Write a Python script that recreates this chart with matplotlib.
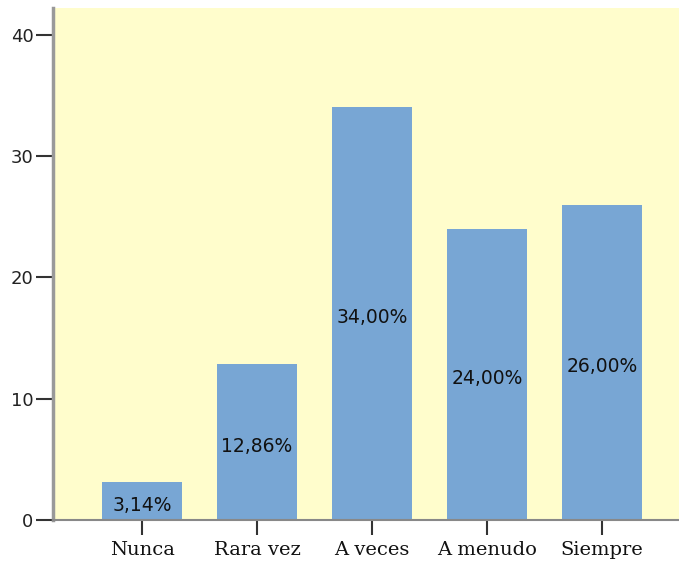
import matplotlib
matplotlib.use("Agg")
import matplotlib.pyplot as plt

categories = ["Nunca", "Rara vez", "A veces", "A menudo", "Siempre"]
values = [3.14, 12.86, 34.00, 24.00, 26.00]
labels = ["3,14%", "12,86%", "34,00%", "24,00%", "26,00%"]
yticks = [0, 10, 20, 30, 40]

fig = plt.figure(figsize=(6.79, 5.63), dpi=100)
ax = fig.add_axes([53/679, 43/563, 1 - 53/679, (520-8)/563])
ax.set_facecolor("#FFFDCC")
x = list(range(len(categories)))
bars = ax.bar(x, values, width=0.7, color="#78A6D4", edgecolor="none", zorder=2)
for xi, v, lab in zip(x, values, labels):
    ax.text(xi, v / 2 - 0.35, lab, ha="center", va="center", fontsize=13.5,
            family="DejaVu Sans", color="#111111", zorder=3)

ax.set_xlim(-0.774, 4.67)
ax.set_ylim(0, 42.2)
ax.set_yticks(yticks)
ax.set_yticklabels([str(t) for t in yticks], fontsize=13, family="DejaVu Sans", color="#222222")
ax.set_xticks(x)
ax.set_xticklabels(categories, fontsize=14, family="DejaVu Serif", color="#111111")
for s in ["top", "right"]:
    ax.spines[s].set_visible(False)
ax.spines["left"].set_color("#999999")
ax.spines["left"].set_linewidth(2.5)
ax.spines["bottom"].set_color("#888888")
ax.spines["bottom"].set_linewidth(1.5)
ax.tick_params(axis="y", length=12, width=1.5, color="#333333", pad=2)
ax.tick_params(axis="x", length=11, width=1.5, color="#333333", pad=4)
fig.savefig("out.png", dpi=100)
